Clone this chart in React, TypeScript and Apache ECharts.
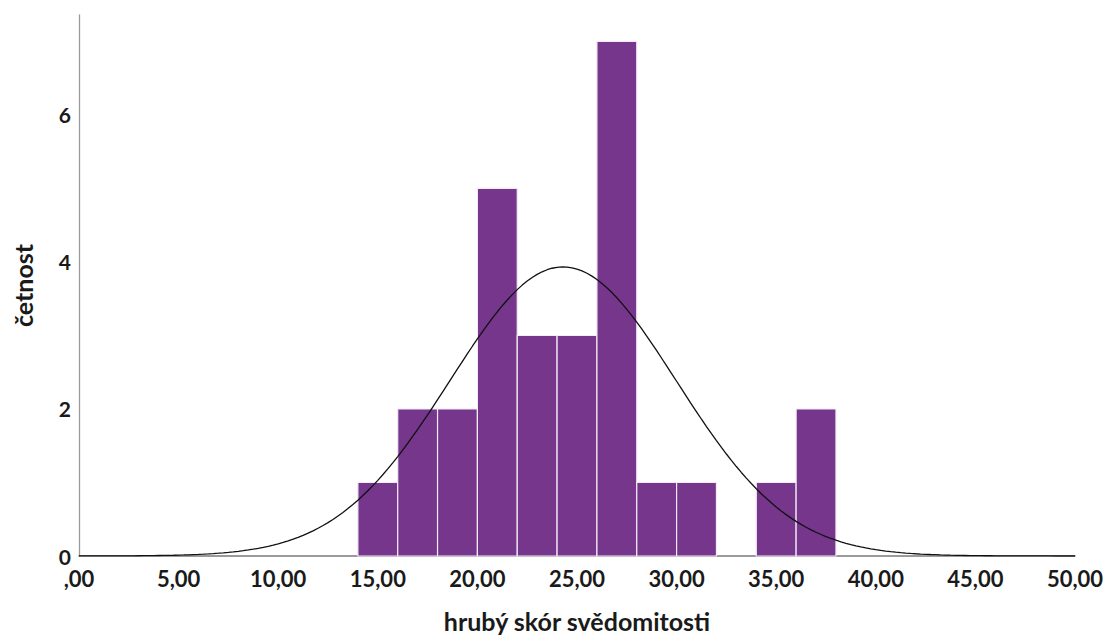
import React, { useEffect, useRef } from "react";
import * as echarts from "echarts";

// Histogram bins (lower edges) and frequencies
const binStarts = [14, 16, 18, 20, 22, 24, 26, 28, 30, 32, 34, 36];
const counts = [1, 2, 2, 5, 3, 3, 7, 1, 1, 0, 1, 2];
const binWidth = 2;

// Fitted normal curve parameters
const fitMean = 24.3;
const fitSd = 5.68;
const curveStep = 0.25;

const xTicks = [0, 5, 10, 15, 20, 25, 30, 35, 40, 45, 50];
const yTicks = [0, 2, 4, 6];

const xTitle = "hrubý skór svědomitosti";
const yTitle = "četnost";

const FONT = "Lato";

function fmtX(v: number): string {
  const s = v.toFixed(2).replace(".", ",");
  return v === 0 ? ",00" : s;
}

export default function App() {
  const ref = useRef<HTMLDivElement>(null);
  useEffect(() => {
    if (!ref.current) return;
    const chart = echarts.init(ref.current, undefined, { renderer: "svg" });
    const n = counts.reduce((a, b) => a + b, 0);
    const curve: number[][] = [];
    for (let x = xTicks[0]; x <= xTicks[xTicks.length - 1] + 1e-9; x += curveStep) {
      const z = (x - fitMean) / fitSd;
      const y = (n * binWidth) / (fitSd * Math.sqrt(2 * Math.PI)) * Math.exp(-0.5 * z * z);
      curve.push([x, y]);
    }
    const barData = binStarts.map((s, i) => [s, s + binWidth, counts[i]]);
    chart.setOption({
      animation: false,
      backgroundColor: "#ffffff",
      grid: {
        left: 79,
        right: 42,
        top: 15,
        bottom: 83,
        containLabel: false,
        outerBoundsMode: "none",
      },
      xAxis: {
        type: "value",
        min: 0,
        max: 50,
        interval: 5,
        name: xTitle,
        nameLocation: "middle",
        nameGap: 52,
        nameTextStyle: { fontFamily: FONT, fontWeight: "bold", fontSize: 25, color: "#1a1a1a" },
        axisLine: { show: true, lineStyle: { color: "#7a7a7a", width: 1.5 } },
        axisTick: { show: false },
        splitLine: { show: false },
        axisLabel: {
          formatter: (v: number) => fmtX(v),
          fontFamily: FONT,
          fontWeight: "bold",
          fontSize: 22,
          lineHeight: 18,
          color: "#1a1a1a",
          margin: 13,
        },
      },
      yAxis: {
        type: "value",
        min: 0,
        max: 7.36,
        interval: 2,
        name: yTitle,
        nameLocation: "middle",
        nameGap: 44,
        nameRotate: 90,
        nameTextStyle: { fontFamily: FONT, fontWeight: "bold", fontSize: 25, color: "#1a1a1a" },
        axisLine: { show: true, lineStyle: { color: "#9a9a9a", width: 1.3 } },
        axisTick: { show: false },
        splitLine: { show: false },
        axisLabel: {
          formatter: (v: number) => (yTicks.indexOf(v) >= 0 ? String(v) : ""),
          fontFamily: FONT,
          fontWeight: "bold",
          fontSize: 21,
          lineHeight: 16,
          color: "#1a1a1a",
          margin: 8,
        },
      },
      series: [
        {
          type: "custom",
          data: barData,
          encode: { x: [0, 1], y: 2 },
          renderItem: (params: any, api: any) => {
            const s = api.value(0);
            const e = api.value(1);
            const c = api.value(2);
            if (c <= 0) return null;
            const p0 = api.coord([s, c]);
            const p1 = api.coord([e, 0]);
            return {
              type: "rect",
              shape: { x: p0[0], y: p0[1], width: p1[0] - p0[0], height: p1[1] - p0[1] },
              style: { fill: "#75368b", stroke: "#f3eaf6", lineWidth: 1.2 },
            };
          },
          z: 2,
        },
        {
          type: "line",
          data: curve,
          showSymbol: false,
          symbol: "none",
          smooth: false,
          lineStyle: { color: "#111111", width: 1.3 },
          z: 3,
        },
      ],
    });
    return () => chart.dispose();
  }, []);
  return (
    <div
      ref={ref}
      style={{ position: "fixed", left: 0, top: 0, width: 1117, height: 639, background: "#fff" }}
    />
  );
}
